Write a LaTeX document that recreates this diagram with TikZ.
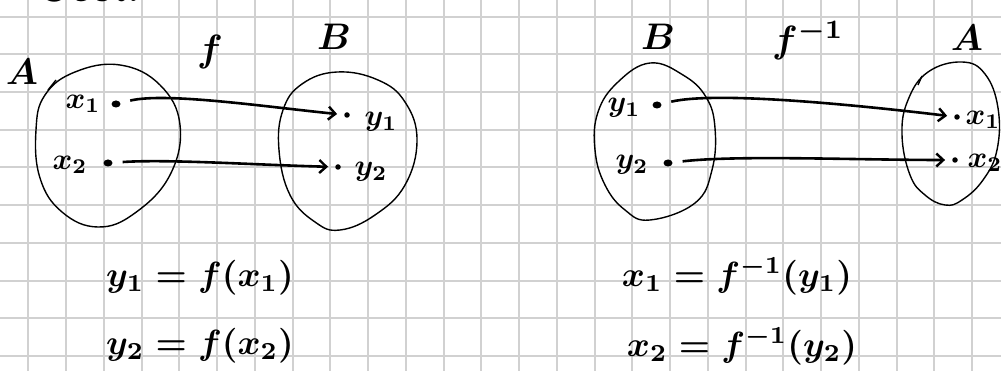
\documentclass[tikz,border=0pt]{standalone}
\usepackage{graphicx}
\usetikzlibrary{arrows.meta,shapes.geometric}
\newcommand{\lblsz}[1]{\scalebox{3.0}{\boldmath$#1$}}
\newcommand{\fsz}[1]{\scalebox{3.8}{\boldmath$#1$}}
\newcommand{\setsz}[1]{\scalebox{3.7}{\boldmath$#1$}}
\newcommand{\eqsz}[1]{\scalebox{3.5}{\boldmath$#1$}}
\begin{document}
\begin{tikzpicture}[x=1pt,y=-1pt,
  gridline/.style={draw=black!18,line width=2pt},
  blob/.style={draw=black,line width=1.4pt},
  maparrow/.style={line width=2.6pt,-{Straight Barb[length=7pt,width=13pt,line width=2.4pt]},shorten <=10pt,shorten >=7pt},
  srcpt/.style={ellipse,fill=black,inner sep=0pt,minimum width=9pt,minimum height=7pt},
  dstpt/.style={circle,fill=black,inner sep=0pt,minimum size=5.5pt},
  lbl/.style={inner sep=0pt}]
\useasboundingbox (0,0) rectangle (1001,371);
\clip (0,0) rectangle (1001,371);
\fill[white] (0,0) rectangle (1001,371);
\foreach \i in {0,...,25} \draw[gridline] (28.3+37.75*\i,0) -- ++(0,371);
\foreach \j in {0,...,9} \draw[gridline] (0,16.7+37.7*\j) -- ++(1001,0);
% partially visible heading
\node[font=\fontsize{40}{44}\selectfont\bfseries\itshape,inner sep=0pt,anchor=base west] (cosi) at (36,2) {Così.};
% ---------------- left diagram ----------------
\node[lbl] (Aleft) at (22,72) {\setsz{A}};
\node[lbl] (Bleft) at (334,37) {\setsz{B}};
\node[lbl] (fleft) at (210,52) {\fsz{f}};
\draw[blob] plot[smooth cycle,tension=0.7] coordinates {(120,65) (160,85) (180,125) (170,175) (135,213) (98,227) (62,212) (40,178) (36,130) (45,95) (75,72)};
\draw[blob] (48,90) -- (56,80);
\draw[blob] plot[smooth cycle,tension=0.7] coordinates {(337,72) (378,80) (405,102) (417,140) (405,185) (375,215) (340,230) (315,222) (290,195) (279,150) (283,110) (302,84)};
\node[srcpt] (x1) at (116,104) {};
\node[srcpt] (x2) at (108,163) {};
\node[dstpt] (y1) at (347,115) {};
\node[dstpt] (y2) at (338,167) {};
\node[lbl] (x1l) at (83,104) {\lblsz{x_1}};
\node[lbl] (x2l) at (70,165) {\lblsz{x_2}};
\node[lbl] (y1l) at (381,122) {\lblsz{y_1}};
\node[lbl] (y2l) at (371,172) {\lblsz{y_2}};
\draw[maparrow] (x1) .. controls +(50,-12) and +(-80,-8) .. (y1);
\draw[maparrow] (x2) .. controls +(60,-4) and +(-80,-2) .. (y2);
\node[lbl] (eq1) at (200,278) {\eqsz{y_1=f(x_1)}};
\node[lbl] (eq2) at (200,346) {\eqsz{y_2=f(x_2)}};
% ---------------- right diagram ----------------
\node[lbl] (Bright) at (658,37) {\setsz{B}};
\node[lbl] (Aright) at (967,38) {\setsz{A}};
\node[lbl] (fright) at (808,40) {\fsz{f^{-1}}};
\draw[blob] plot[smooth cycle,tension=0.7] coordinates {(650,63) (683,75) (706,97) (715,128) (712,170) (695,203) (650,220) (625,210) (605,185) (595,150) (598,112) (618,82)};
\draw[blob] plot[smooth cycle,tension=0.7] coordinates {(962,62) (985,74) (998,108) (997,150) (983,180) (962,200) (945,205) (925,195) (910,175) (902,135) (908,100) (928,72)};
\draw[blob] (918,85) -- (922,76);
\node[srcpt] (yy1) at (657,105) {};
\node[srcpt] (yy2) at (668,163) {};
\node[dstpt] (xx1) at (957,117) {};
\node[dstpt] (xx2) at (955,160) {};
\node[lbl] (yy1l) at (624,108) {\lblsz{y_1}};
\node[lbl] (yy2l) at (632,165) {\lblsz{y_2}};
\node[lbl] (xx1l) at (983,120) {\lblsz{x_1}};
\node[lbl] (xx2l) at (985,163) {\lblsz{x_2}};
\draw[maparrow] (yy1) .. controls +(60,-14) and +(-100,-12) .. (xx1);
\draw[maparrow] (yy2) .. controls +(70,-8) and +(-100,0) .. (xx2);
\node[lbl] (eq3) at (737,276) {\eqsz{x_1=f^{-1}(y_1)}};
\node[lbl] (eq4) at (742,346) {\eqsz{x_2=f^{-1}(y_2)}};
\end{tikzpicture}
\end{document}
